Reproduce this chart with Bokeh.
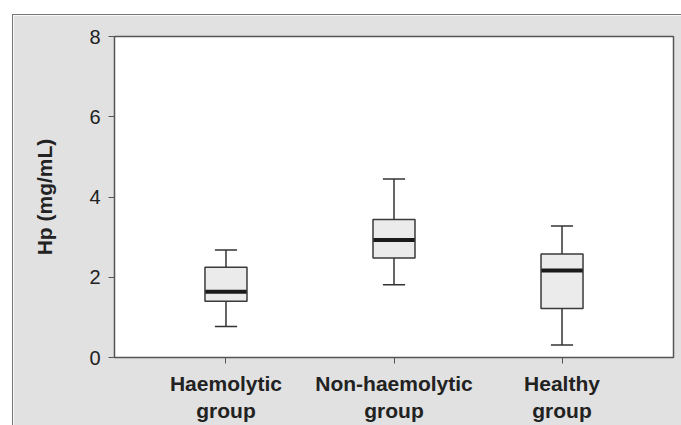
from bokeh.plotting import figure
from bokeh.models import FactorRange, Range1d, FixedTicker, ColumnDataSource, Spacer
from bokeh.layouts import column, row
from bokeh.transform import dodge
from bokeh.embed import file_html
from bokeh.resources import INLINE

categories = ["Haemolytic\ngroup", "Non-haemolytic\ngroup", "Healthy\ngroup"]
whisker_low = [0.77, 1.81, 0.31]
q1 = [1.40, 2.48, 1.22]
median = [1.64, 2.93, 2.17]
q3 = [2.25, 3.44, 2.58]
whisker_high = [2.68, 4.45, 3.28]
y_ticks = [0, 2, 4, 6, 8]

src = ColumnDataSource(dict(cat=categories, lo=whisker_low, q1=q1, med=median, q3=q3, hi=whisker_high))

FONT = "Liberation Sans"
PANEL = "#e1e1e1"
EDGE = "#777777"

p = figure(
    x_range=FactorRange(*categories, range_padding=0.109),
    y_range=Range1d(0, 8),
    width=668, height=410,
    min_border_left=101, min_border_top=21, min_border_right=8, min_border_bottom=67,
    output_backend="svg", toolbar_location=None,
)
p.border_fill_color = PANEL
p.background_fill_color = "white"
p.outline_line_color = "#555555"
p.outline_line_width = 1.5
p.grid.visible = False

# whiskers
wcol = "#333333"
p.segment(x0="cat", y0="lo", x1="cat", y1="q1", source=src, line_color=wcol, line_width=1.5)
p.segment(x0="cat", y0="q3", x1="cat", y1="hi", source=src, line_color=wcol, line_width=1.5)
cap = 0.066
p.segment(x0=dodge("cat", -cap, range=p.x_range), y0="lo", x1=dodge("cat", cap, range=p.x_range), y1="lo",
          source=src, line_color=wcol, line_width=1.5)
p.segment(x0=dodge("cat", -cap, range=p.x_range), y0="hi", x1=dodge("cat", cap, range=p.x_range), y1="hi",
          source=src, line_color=wcol, line_width=1.5)
# boxes
p.vbar(x="cat", bottom="q1", top="q3", width=0.25, source=src,
       fill_color="#ebebeb", line_color="#3a3a3a", line_width=1.5)
# medians
p.segment(x0=dodge("cat", -0.123, range=p.x_range), y0="med", x1=dodge("cat", 0.123, range=p.x_range), y1="med",
          source=src, line_color="#1a1a1a", line_width=4)

# y axis
ya = p.yaxis[0]
ya.ticker = FixedTicker(ticks=y_ticks)
ya.minor_tick_line_color = None
ya.major_tick_out = 6
ya.major_tick_in = 0
ya.axis_line_color = "#555555"
ya.major_tick_line_color = "#555555"
ya.major_label_text_font = FONT
ya.major_label_text_font_size = "20px"
ya.major_label_text_color = "#222222"
ya.major_label_standoff = 8
ya.axis_label = "Hp (mg/mL)"
ya.axis_label_text_font = FONT
ya.axis_label_text_font_size = "21px"
ya.axis_label_text_font_style = "bold"
ya.axis_label_text_color = "#222222"
ya.axis_label_standoff = 30

# x axis
xa = p.xaxis[0]
xa.major_tick_out = 6
xa.major_tick_in = 0
xa.axis_line_color = "#555555"
xa.major_tick_line_color = "#555555"
xa.major_label_text_font = FONT
xa.major_label_text_font_size = "21px"
xa.major_label_text_font_style = "bold"
xa.major_label_text_color = "#222222"
xa.major_label_text_line_height = 1.2
xa.major_label_standoff = 8

# white offset (12 px left, 14 px top), then a 1 px panel edge on top and left
edge_top = Spacer(width=669, height=1, styles={"background-color": EDGE})
edge_left = Spacer(width=1, height=410, styles={"background-color": EDGE})
layout = column(
    Spacer(width=681, height=14),
    row(Spacer(width=12, height=411), column(edge_top, row(edge_left, p))),
)

open("out.html", "w").write(file_html(layout, INLINE))
